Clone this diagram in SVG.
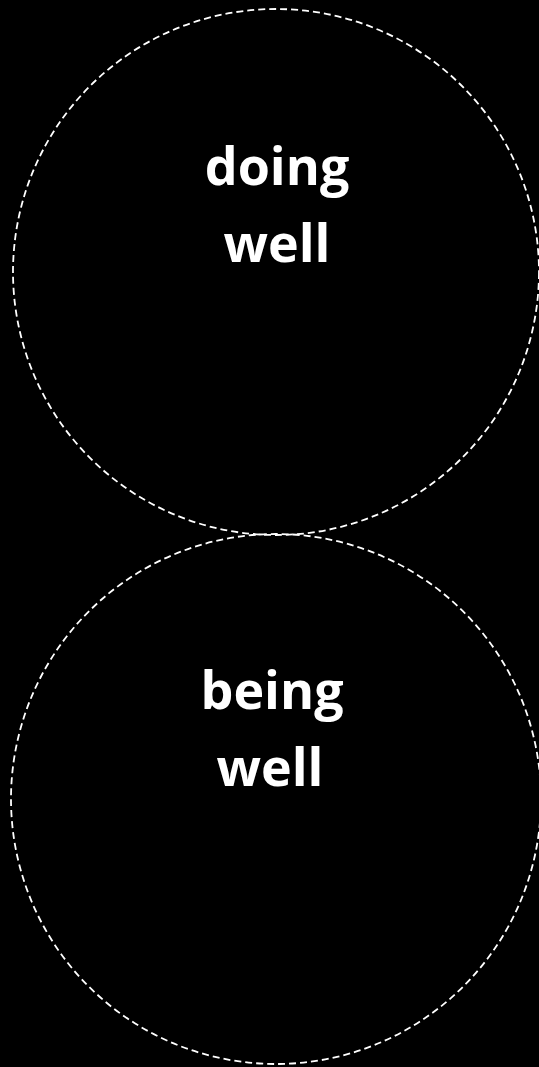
<svg xmlns="http://www.w3.org/2000/svg" width="539" height="1067" viewBox="0 0 539 1067">
<style>
.c{fill:none;stroke:#fff;stroke-width:1.8;stroke-dasharray:7 4}
.t{fill:#fff;font-family:"Open Sans","DejaVu Sans",sans-serif;font-weight:bold;font-size:52px;text-anchor:middle}
</style>
<rect width="539" height="1067" fill="#000"/>
<g id="connectors"></g>
<g id="doing-well">
<circle class="c" cx="276" cy="272" r="263"/>
<text class="t" x="277" y="185">doing</text>
<text class="t" x="277" y="262">well</text>
</g>
<g id="being-well">
<circle class="c" cx="276" cy="799" r="265"/>
<text class="t" x="272" y="709">being</text>
<text class="t" x="270" y="786">well</text>
</g>
</svg>
